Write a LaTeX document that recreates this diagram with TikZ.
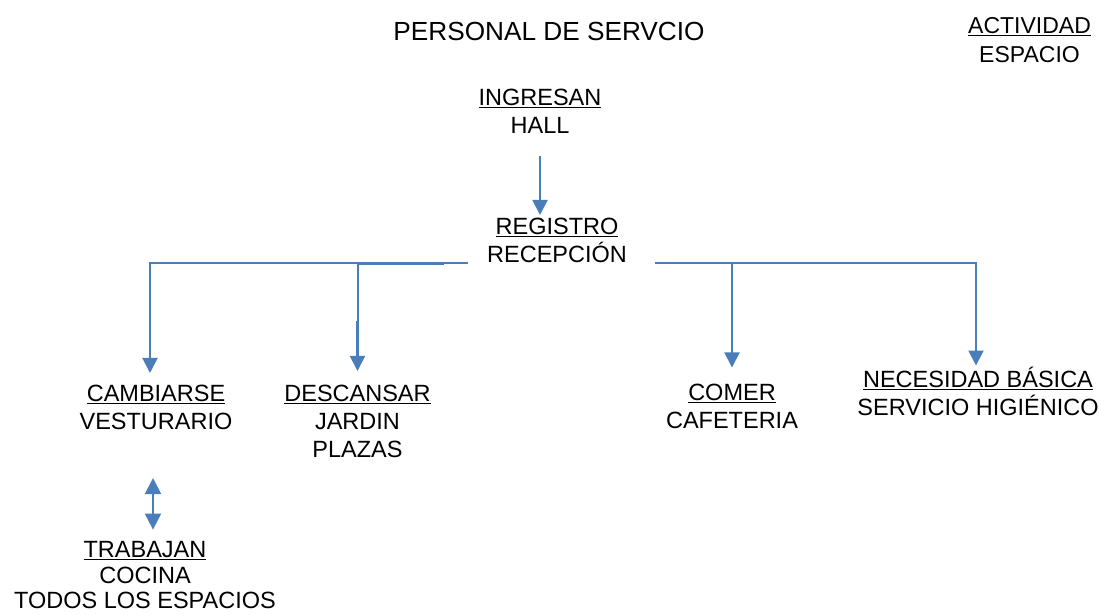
\documentclass[tikz,border=0pt]{standalone}
\usepackage{fontspec}
\setmainfont{Liberation Sans}
\usetikzlibrary{arrows.meta, positioning}
\definecolor{flujoAzul}{HTML}{4A7EBB}

\tikzset{
  etiqueta/.style={align=center, inner sep=0pt, font=\fontsize{23.5}{28}\selectfont},
  linea/.style={flujoAzul, line width=2pt},
  flecha/.style={linea, -{Triangle[width=15pt, length=15pt]}},
  doble/.style={linea, {Triangle[width=16pt, length=16pt]}-{Triangle[width=16pt, length=16pt]}},
}

\begin{document}
\begin{tikzpicture}[x=1pt, y=-1pt]
    \useasboundingbox (0,0) rectangle (1107,614);

    % titulo y leyenda
    \node[etiqueta, font=\fontsize{26.2}{28}\selectfont] (titulo) at (549,31) {PERSONAL DE SERVCIO};
    \node[etiqueta, font=\fontsize{23}{29}\selectfont] (leyenda) at (1029.5,40.5)
      {\underline{ACTIVIDAD}\\ESPACIO};

    % actividades
    \node[etiqueta] (ingresan) at (540,111) {\underline{INGRESAN}\\HALL};
    \node[etiqueta] (registro) at (557,240.5) {\underline{REGISTRO}\\RECEPCIÓN};
    \node[etiqueta] (cambiarse) at (156,407.5) {\underline{CAMBIARSE}\\VESTURARIO};
    \node[etiqueta] (descansar) at (357.5,421.5) {\underline{DESCANSAR}\\JARDIN\\PLAZAS};
    \node[etiqueta] (comer) at (732,406) {\underline{COMER}\\CAFETERIA};
    \node[etiqueta] (necesidad) at (978,391) {\underline{NECESIDAD BÁSICA}\\SERVICIO HIGIÉNICO};
    \node[etiqueta, font=\fontsize{23.5}{25.5}\selectfont] (trabajan) at (145,575.5)
      {\underline{TRABAJAN}\\COCINA\\TODOS LOS ESPACIOS};

    % ingreso
    \draw[flecha, shorten <=23pt, shorten >=3pt] (ingresan.south) -- (ingresan.south |- registro.north);

    % barra de reparto
    \coordinate (barra-izq) at ([xshift=-19pt]registro.south west);
    \coordinate (barra-der) at ([xshift=28pt]registro.south east);
    \draw[flecha] (barra-izq) -| ([xshift=-6pt, yshift=12pt]cambiarse.north);
    \draw[flecha] (barra-izq -| descansar.north) -- ([yshift=14pt]descansar.north);
    \draw[linea, line width=3pt] (barra-izq -| descansar.north) -- ++(86,0);
    \draw[linea, line width=3pt] ([yshift=64pt]descansar.north) -- ([yshift=28pt]descansar.north);
    \draw[flecha] (barra-der) -| ([xshift=-2pt, yshift=1pt]necesidad.north);
    \draw[flecha] (barra-der -| comer.north) -- ([yshift=16pt]comer.north);

    % vestuario - trabajo
    \draw[doble] ([xshift=-3pt, yshift=-48pt]cambiarse.south) -- ([xshift=8pt, yshift=12pt]trabajan.north);
\end{tikzpicture}
\end{document}
